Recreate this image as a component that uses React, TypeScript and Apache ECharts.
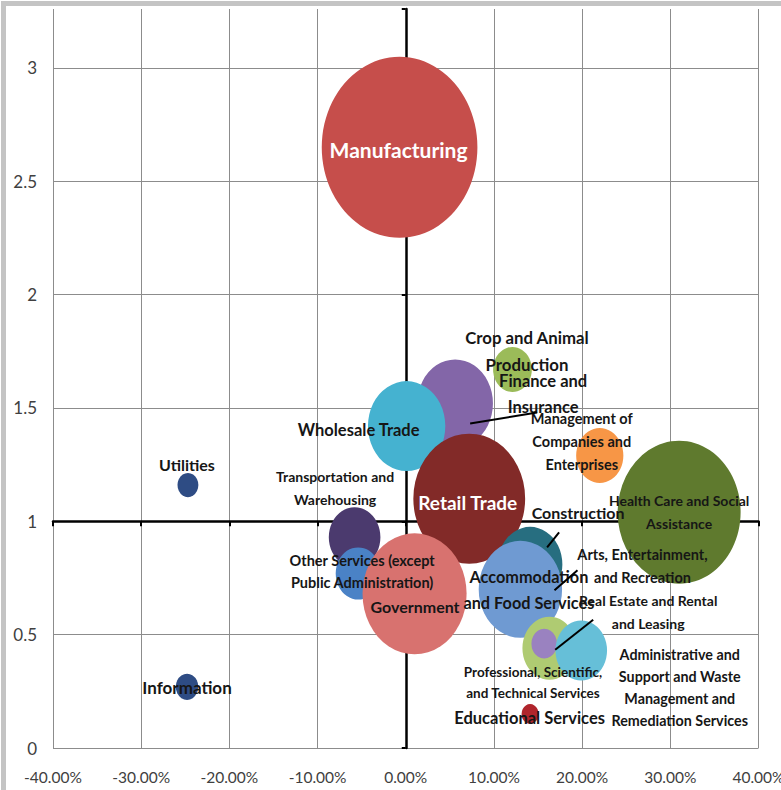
import React, { useEffect, useRef } from "react";
import * as echarts from "echarts";

// ---------- data ----------
const industries = [
  "Manufacturing",
  "Crop and Animal\nProduction",
  "Finance and\nInsurance",
  "Wholesale Trade",
  "Management of\nCompanies and\nEnterprises",
  "Health Care and Social\nAssistance",
  "Retail Trade",
  "Utilities",
  "Information",
  "Transportation and\nWarehousing",
  "Other Services (except\nPublic Administration)",
  "Government",
  "Construction",
  "Arts, Entertainment,\nand Recreation",
  "Accommodation\nand Food Services",
  "Professional, Scientific,\nand Technical Services",
  "Real Estate and Rental\nand Leasing",
  "Administrative and\nSupport and Waste\nManagement and\nRemediation Services",
  "Educational Services",
];
// x: growth (%)
const growthPct = [-0.7, 12.1, 5.6, 0.1, 22.0, 31.0, 7.2, -24.7, -24.8, -5.8, -5.4, 1.0, 14.1, 16.3, 13.0, 16.3, 15.7, 19.9, 14.1];
// y: location quotient
const locationQuotient = [2.65, 1.67, 1.52, 1.42, 1.29, 1.04, 1.1, 1.16, 0.27, 0.93, 0.77, 0.68, 0.81, 0.7, 0.7, 0.44, 0.46, 0.43, 0.15];
// bubble size: employment (relative)
const employment = [100, 6.2, 23.6, 24.7, 9.2, 62.4, 51.6, 1.8, 2.1, 11.0, 8.3, 44.7, 17.2, 1.2, 28.7, 12.1, 2.7, 11.0, 1.2];

const xTicks = { min: -40, max: 40, step: 10 };
const yTicks = { min: 0, max: 3.26, step: 0.5 };

// ---------- styles ----------
const bubbleColors = [
  "#C64E4B", "#9BBB59", "#8366A8", "#45B2D0", "#F79646", "#5F7A2E", "#822A28",
  "#2E4C84", "#2E4C84", "#4B3A6E", "#4A82C6", "#D8726F", "#276E80", "#B65708",
  "#6F9AD2", "#AFCB72", "#9A82C0", "#66BFD8", "#B0252C",
];
const labelColors = industries.map((_, i) => (i === 0 || i === 6 ? "#ffffff" : "#161616"));
const labelFontSizes = [21, 16.8, 16.5, 16.5, 14.5, 14, 19, 16, 17, 14, 14.5, 16, 16, 14.5, 16.3, 13.5, 14, 14.3, 16.5];
const labelLineHeights = [22, 27, 26, 18, 23, 23, 20, 16, 17, 23, 22.5, 19, 18, 23, 26, 21.5, 23, 22, 18];
const labelOffsets: [number, number][] = [
  [-1, 2], [14.5, -18.5], [88, -9], [-48, 4], [-18, -14.5], [0, 0], [-1.5, 4], [-1, -21], [0, 1],
  [-19.5, -49.5], [4, -2], [0.5, 13], [48, -52], [93, -23.5], [8.5, 0.5], [-16.5, 34], [104, -32],
  [98.5, 37], [-0.5, 4],
];
// leader lines: pixel offsets from the bubble centre [startDx, startDy, endDx, endDy]
const leaderLines: ([number, number, number, number] | null)[] = [
  null, null, [15, 20, 82, 9], null, null, null, null, null, null, null, null, null,
  [17, -17, 29, -32], [5, 1, 28, -19], null, null, [11, 6, 49, -24], null, null,
];

const W = 781;
const H = 790;
const GRID = { left: 53, right: 22.5, top: 9, bottom: 42 };
const FONT = "Lato, 'Open Sans', sans-serif";
const MAX_BUBBLE_H = 181;
const BUBBLE_ASPECT = 0.86;

export default function App() {
  const ref = useRef<HTMLDivElement>(null);
  useEffect(() => {
    if (!ref.current) return;
    const chart = echarts.init(ref.current, undefined, { renderer: "svg" });
    const gridH = H - GRID.top - GRID.bottom;
    const oneOffset = -(gridH * (1 - yTicks.min)) / (yTicks.max - yTicks.min);

    const data = industries.map((name, i) => ({
      name,
      value: [growthPct[i], locationQuotient[i], employment[i]],
      itemStyle: { color: bubbleColors[i], opacity: 1 },
      label: {
        color: labelColors[i],
        fontSize: labelFontSizes[i],
        lineHeight: labelLineHeights[i],
      },
    }));

    const leaderData = industries
      .map((_, i) => i)
      .filter((i) => leaderLines[i])
      .map((i) => ({ value: [growthPct[i], locationQuotient[i], i] }));

    chart.setOption({
      animation: false,
      backgroundColor: "#ffffff",
      grid: { ...GRID, outerBoundsMode: "none", containLabel: false },
      xAxis: [
        {
          type: "value",
          min: xTicks.min,
          max: xTicks.max,
          interval: xTicks.step,
          axisLine: { show: false, onZero: false },
          axisTick: { show: false },
          axisLabel: {
            formatter: (v: number) => v.toFixed(2) + "%",
            fontFamily: FONT,
            fontSize: 15.5,
            color: "#404040",
            margin: 21,
          },
          splitLine: { show: true, lineStyle: { color: "#8c8c8c", width: 1 } },
        },
        {
          type: "value",
          min: xTicks.min,
          max: xTicks.max,
          interval: xTicks.step,
          position: "bottom",
          offset: oneOffset,
          axisLine: { show: true, onZero: false, lineStyle: { color: "#000", width: 2.5 } },
          axisTick: { show: true, length: 5, lineStyle: { color: "#000", width: 2 } },
          axisLabel: { show: false },
          splitLine: { show: false },
        },
      ],
      yAxis: [
        {
          type: "value",
          min: yTicks.min,
          max: yTicks.max,
          interval: yTicks.step,
          position: "left",
          axisLine: { show: false, onZero: false },
          axisTick: { show: false },
          axisLabel: {
            formatter: (v: number) =>
              Math.abs(v / yTicks.step - Math.round(v / yTicks.step)) < 1e-9 ? String(v) : "",
            showMaxLabel: false,
            fontFamily: FONT,
            fontSize: 17,
            color: "#404040",
            margin: 16,
          },
          splitLine: { show: true, showMaxLine: false, lineStyle: { color: "#8c8c8c", width: 1 } },
        },
        {
          type: "value",
          min: yTicks.min,
          max: yTicks.max,
          interval: yTicks.step,
          position: "left",
          axisLine: { show: true, onZero: true, onZeroAxisIndex: 0, lineStyle: { color: "#000", width: 2.5 } },
          axisTick: { show: true, length: 4, lineStyle: { color: "#000", width: 2 } },
          axisLabel: { show: false },
          splitLine: { show: false },
        },
      ],
      graphic: [
        {
          type: "rect",
          shape: { x: 3.5, y: 3.5, width: W + 20, height: H + 20 },
          style: { fill: "none", stroke: "#c4c4c4", lineWidth: 5 },
          silent: true,
          z: 100,
        },
      ],
      series: [
        {
          type: "scatter",
          xAxisIndex: 0,
          yAxisIndex: 0,
          symbol: "circle",
          symbolSize: (val: number[]) => {
            const h = MAX_BUBBLE_H * Math.sqrt(val[2] / 100);
            return [h * BUBBLE_ASPECT, h];
          },
          label: {
            show: true,
            position: "inside",
            formatter: "{b}",
            fontFamily: FONT,
            fontWeight: "bold",
            align: "center",
          },
          labelLayout: (p: any) => {
            const o = labelOffsets[p.dataIndex];
            return { dx: o[0], dy: o[1] };
          },
          emphasis: { disabled: true },
          z: 3,
          data,
        },
        {
          type: "custom",
          xAxisIndex: 0,
          yAxisIndex: 0,
          z: 4,
          silent: true,
          renderItem: (params: any, api: any) => {
            const c = api.coord([api.value(0), api.value(1)]);
            const l = leaderLines[api.value(2)]!;
            return {
              type: "line",
              shape: { x1: c[0] + l[0], y1: c[1] + l[1], x2: c[0] + l[2], y2: c[1] + l[3] },
              style: { stroke: "#000", lineWidth: 2 },
            };
          },
          data: leaderData,
        },
      ],
    });
    return () => chart.dispose();
  }, []);
  return <div ref={ref} style={{ width: W, height: H, position: "absolute", left: 0, top: 0 }} />;
}
